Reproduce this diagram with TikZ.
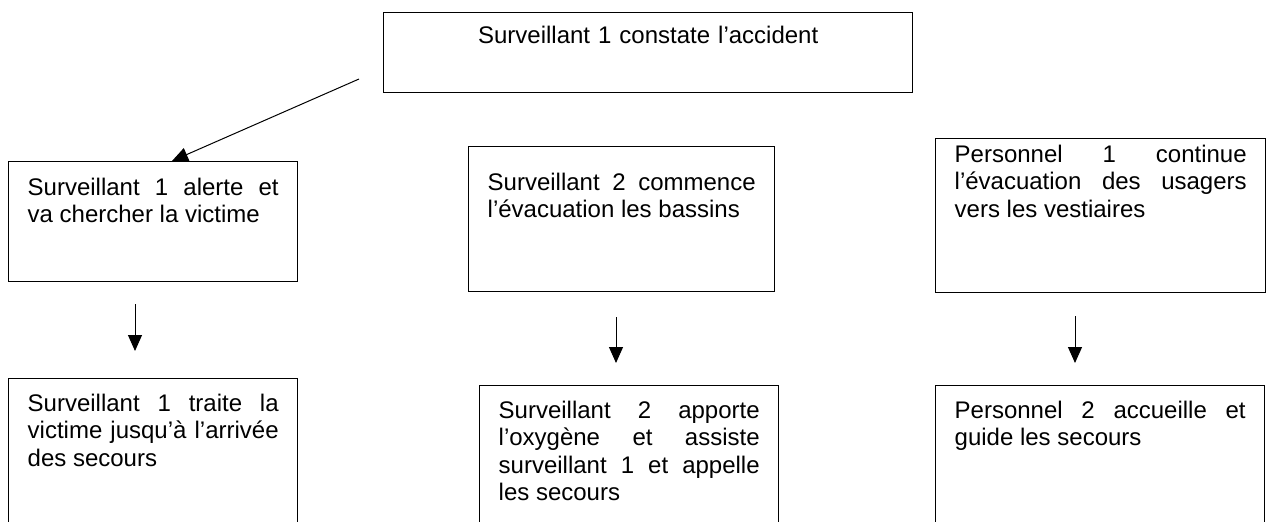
\documentclass[tikz,border=0pt]{standalone}
\usepackage{fontspec}
\setmainfont{Liberation Sans}
\usepackage{tikz}
\usetikzlibrary{arrows.meta, positioning, calc}
\hyphenpenalty=10000
\exhyphenpenalty=10000
\tolerance=10000

\begin{document}
\begin{tikzpicture}[x=0.5pt, y=-0.5pt,
    % Step boxes: plain black frames, justified text hung from the top.
    stepbox/.style={rectangle, draw=black, line width=0.7pt,
                    anchor=north west, inner xsep=9.5pt, inner ysep=0pt,
                    align=justify, font=\fontsize{12}{13.6}\selectfont},
    % Opening box: same frame, one centred line.
    titlebox/.style={stepbox, align=center},
    % Flow arrows between the steps.
    flow/.style={-{Triangle[length=8pt, width=7pt]}, line width=0.5pt}
]

    % Page frame: the lower boxes run past the bottom edge.
    \useasboundingbox (0,0) rectangle (1268,521);
    \clip (0,0) rectangle (1268,521);

    % === Row 0: accident noticed ===
    \node[titlebox, text width=245.5pt, text height=15.5pt, text depth=24.5pt]
        (constat) at (383,12) {Surveillant 1 constate l’accident};

    % === Row 1: first actions ===
    \node[stepbox, text width=125.5pt, text height=17pt, text depth=43pt]
        (alerte) at (8,161)
        {Surveillant 1 alerte et\linebreak va chercher la victime};
    \node[stepbox, text width=134pt, text height=22pt, text depth=50.5pt]
        (bassins) at (468,146)
        {Surveillant 2 commence\linebreak l’évacuation les bassins};
    \node[stepbox, text width=146pt, text height=12pt, text depth=65pt]
        (vestiaires) at (935,138)
        {Personnel 1 continue\linebreak l’évacuation des usagers\linebreak vers les vestiaires};

    % === Row 2: care and rescue ===
    \node[stepbox, text width=125.5pt, text height=16.5pt, text depth=100pt]
        (traite) at (8,378)
        {Surveillant 1 traite la\linebreak victime jusqu’à l’arrivée\linebreak des secours};
    \node[stepbox, text width=130.5pt, text height=16.5pt, text depth=100pt]
        (oxygene) at (479,385)
        {Surveillant 2 apporte\linebreak l’oxygène et assiste\linebreak surveillant 1 et appelle\linebreak les secours};
    \node[stepbox, text width=145.5pt, text height=16.5pt, text depth=100pt]
        (accueil) at (935,385)
        {Personnel 2 accueille et\linebreak guide les secours};

    % === Arrows ===
    % Columns where the arrows run (they are not centred on the boxes).
    \coordinate (alertStart) at (359,79);
    \coordinate (colTip) at (172,0);
    \coordinate (colA) at (135,0);
    \coordinate (colB) at (616,0);
    \coordinate (colC) at (1075,0);

    % Free-standing slanted stroke down to the first box.
    \draw[flow] (alertStart) -- (alerte.north -| colTip);

    % Row 1 -> Row 2, with gaps on both ends.
    \draw[flow, shorten <=11pt, shorten >=13.5pt]
        (alerte.south -| colA) -- (traite.north -| colA);
    \draw[flow, shorten <=12.5pt, shorten >=11pt]
        (bassins.south -| colB) -- (oxygene.north -| colB);
    \draw[flow, shorten <=11.5pt, shorten >=11pt]
        (vestiaires.south -| colC) -- (accueil.north -| colC);

\end{tikzpicture}
\end{document}
